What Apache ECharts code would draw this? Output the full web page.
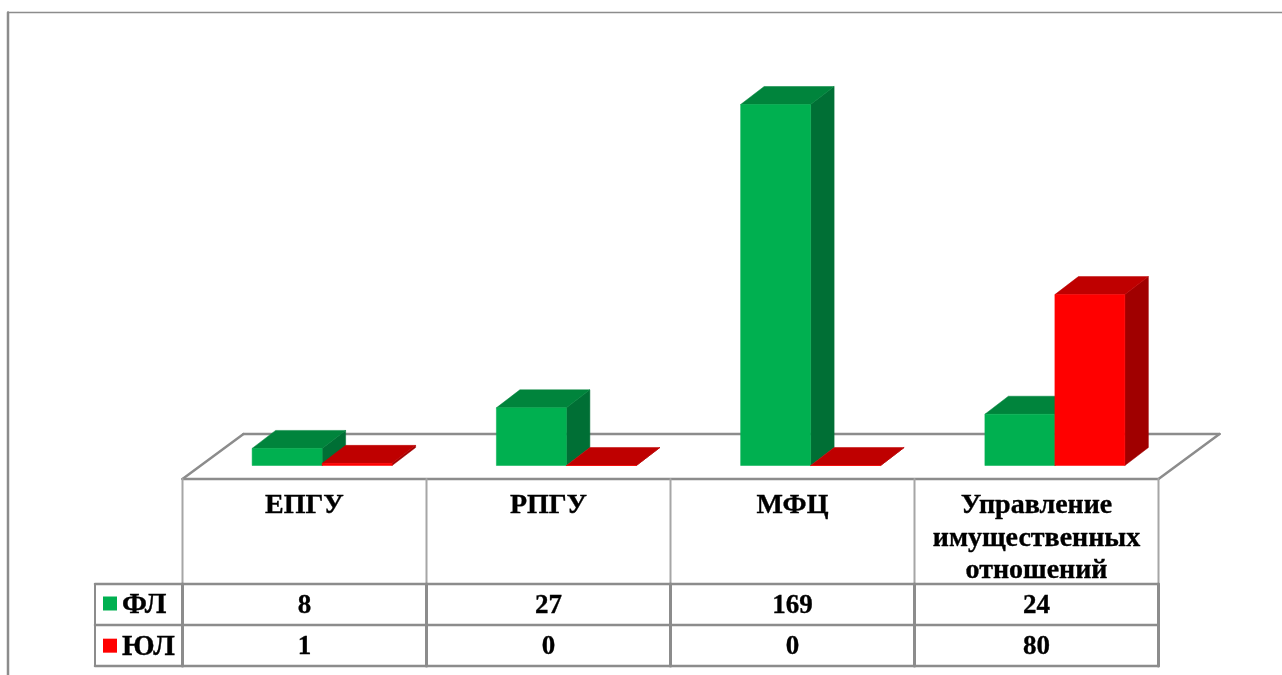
<!DOCTYPE html>
<html>
<head>
<meta charset="utf-8">
<style>html,body{margin:0;padding:0;background:#fff;overflow:hidden}#c{width:1282px;height:675px}</style>
<script src="https://cdn.jsdelivr.net/npm/echarts@6/dist/echarts.min.js"></script>
</head>
<body>
<div id="c"></div>
<script>
var categories = ['ЕПГУ', 'РПГУ', 'МФЦ', 'Управление\nимущественных\nотношений'];
var seriesNames = ['ФЛ', 'ЮЛ'];
var flValues = [8, 27, 169, 24];
var ulValues = [1, 0, 0, 80];

var FONT = '"Liberation Serif","Times New Roman",serif';
var GRID = '#8c8c8c', GRID_LIGHT = '#a6a6a6';
var BAND = 244, TL = 182.5, TR = 1158.5, LL = 95;
var Y_FLOOR_F = 479, Y_FLOOR_B = 434, X_SKEW = 61;
var Y_R0 = 584, Y_R1 = 625, Y_R2 = 666;
var BAR_W = 70, BAR_SHIFT = 18, DX = 23.5, DY = 18;

function shade(seriesIndex, front, top, side, values) {
  return {
    type: 'custom', name: seriesNames[seriesIndex], coordinateSystem: 'cartesian2d', z: 5 + seriesIndex,
    itemStyle: { color: front }, silent: true,
    data: values.map(function (v, i) { return [i, v]; }),
    encode: { x: 0, y: 1 },
    renderItem: function (params, api) {
      var base = api.coord([api.value(0), 0]);
      var tip = api.coord([api.value(0), api.value(1)]);
      var x0 = base[0] + BAR_SHIFT + (seriesIndex - 1) * BAR_W, x1 = x0 + BAR_W;
      var y0 = base[1], y1 = tip[1];
      function poly(points, color) {
        return { type: 'polygon', shape: { points: points }, style: { fill: color, stroke: color, lineWidth: 0.5 } };
      }
      return { type: 'group', children: [
        poly([[x1, y0], [x1 + DX, y0 - DY], [x1 + DX, y1 - DY], [x1, y1]], side),
        poly([[x0, y1], [x1, y1], [x1 + DX, y1 - DY], [x0 + DX, y1 - DY]], top),
        poly([[x0, y0], [x1, y0], [x1, y1], [x0, y1]], front)
      ]};
    }
  };
}

function line(x1, y1, x2, y2, color, w) {
  return { type: 'line', shape: { x1: x1, y1: y1, x2: x2, y2: y2 }, style: { stroke: color, lineWidth: w, lineCap: 'round' }, z: 1, silent: true };
}
function label(text, x, y, va, size, lh) {
  return { type: 'text', z: 10, silent: true, style: {
    text: String(text), x: x, y: y, align: 'center', verticalAlign: va,
    font: 'bold ' + size + 'px ' + FONT, fill: '#000', lineHeight: lh,
    stroke: '#000', lineWidth: 0.35
  }};
}

var g = [];
// outer frame
g.push(line(8, 12.5, 1282, 12.5, GRID, 1.5), line(8, 12.5, 8, 675, GRID, 2.5));
// floor
g.push(line(TL, Y_FLOOR_F, TL + X_SKEW, Y_FLOOR_B, GRID, 2.5));
g.push(line(TL + X_SKEW, Y_FLOOR_B, TR + X_SKEW, Y_FLOOR_B, GRID, 2.5));
g.push(line(TR + X_SKEW, Y_FLOOR_B, TR, Y_FLOOR_F, GRID, 2.5));
g.push(line(TL, Y_FLOOR_F, TR, Y_FLOOR_F, GRID, 2.5));
// table
for (var i = 0; i <= categories.length; i++) {
  var vx = TL + i * BAND;
  g.push(line(vx, Y_FLOOR_F, vx, Y_R0, GRID_LIGHT, 2));
  g.push(line(vx, Y_R0, vx, Y_R2, GRID, 3));
}
g.push(line(LL, Y_R0, TR, Y_R0, GRID, 2.5), line(LL, Y_R1, TR, Y_R1, GRID, 2.5), line(LL, Y_R2, TR, Y_R2, GRID, 2.5));
g.push(line(LL, Y_R0, LL, Y_R2, GRID, 2));
categories.forEach(function (c, i) {
  var cx = TL + (i + 0.5) * BAND;
  g.push(label(c, cx, 490, 'top', 28, 32.5));
  g.push(label(flValues[i], cx, (Y_R0 + Y_R1) / 2 + 2, 'middle', 27));
  g.push(label(ulValues[i], cx, (Y_R1 + Y_R2) / 2 + 2, 'middle', 27));
});

var chart = echarts.init(document.getElementById('c'));
chart.setOption({
  backgroundColor: '#fff',
  animation: false,
  grid: { left: 182, width: 977, top: 81, height: 384.5, containLabel: false },
  xAxis: { type: 'category', data: categories, show: false },
  yAxis: { type: 'value', min: 0, max: 180, show: false },
  legend: {
    show: true, orient: 'vertical', left: 103, top: 587, padding: 0,
    itemWidth: 14, itemHeight: 14, itemGap: 9, icon: 'rect',
    data: seriesNames, selectedMode: false,
    formatter: '{a|{name}}',
    textStyle: { color: '#000', rich: { a: { fontFamily: FONT, fontWeight: 'bold', fontSize: 29, color: '#000', lineHeight: 28,
      padding: [4, 0, 0, 0], textBorderColor: '#000', textBorderWidth: 0.35 } } }
  },
  graphic: g,
  series: [
    shade(0, '#00b050', '#00843c', '#006f35', flValues),
    shade(1, '#ff0000', '#bf0000', '#a00000', ulValues)
  ]
});
</script>
</body>
</html>
